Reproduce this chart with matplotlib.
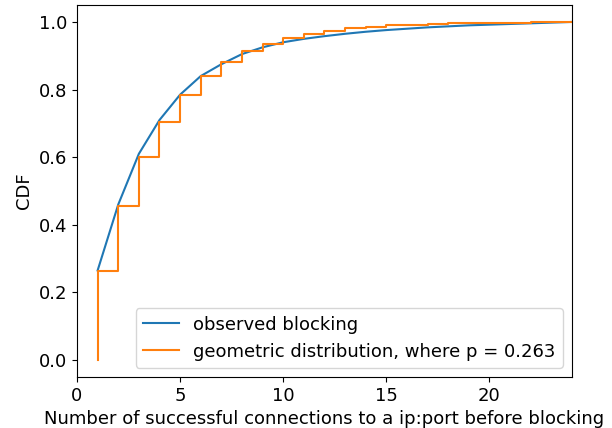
import numpy as np
import matplotlib
matplotlib.use("Agg")
import matplotlib.pyplot as plt

# observed CDF of successful connections before blocking
obs_x = [1, 2, 3, 4, 5, 6, 7, 8, 9, 10, 11, 12, 13, 14, 15, 16, 17, 18, 19, 20, 21, 22, 23, 24]
obs_cdf = [0.265, 0.46, 0.61, 0.71, 0.785, 0.84, 0.875, 0.905, 0.925, 0.94, 0.95, 0.958,
           0.965, 0.971, 0.976, 0.980, 0.984, 0.987, 0.990, 0.992, 0.994, 0.996, 0.998, 1.0]

# geometric distribution CDF, p = 0.263
geo_x = [1, 1, 2, 3, 4, 5, 6, 7, 8, 9, 10, 11, 12, 13, 14, 15, 16, 17, 18, 19, 20, 21, 22, 23, 24]
geo_cdf = [0.0, 0.263, 0.457, 0.600, 0.705, 0.783, 0.840, 0.882, 0.913, 0.936, 0.953, 0.965,
           0.974, 0.981, 0.986, 0.990, 0.992, 0.994, 0.996, 0.997, 0.998, 0.998, 0.999, 0.999, 0.999]

plt.rcParams["font.size"] = 13

fig = plt.figure(figsize=(6.12, 4.28), dpi=100)
ax = fig.add_axes([0.1258, 0.1192, 0.8088, 0.869])

ax.plot(obs_x, obs_cdf, label="observed blocking")
ax.step(geo_x, geo_cdf, where="post", label="geometric distribution, where p = 0.263")

ax.set_xlim(0, 24)
ax.set_xlabel("Number of successful connections to a ip:port before blocking")
ax.set_ylabel("CDF")
ax.legend(loc="lower right")

fig.savefig("out.png", dpi=100)
